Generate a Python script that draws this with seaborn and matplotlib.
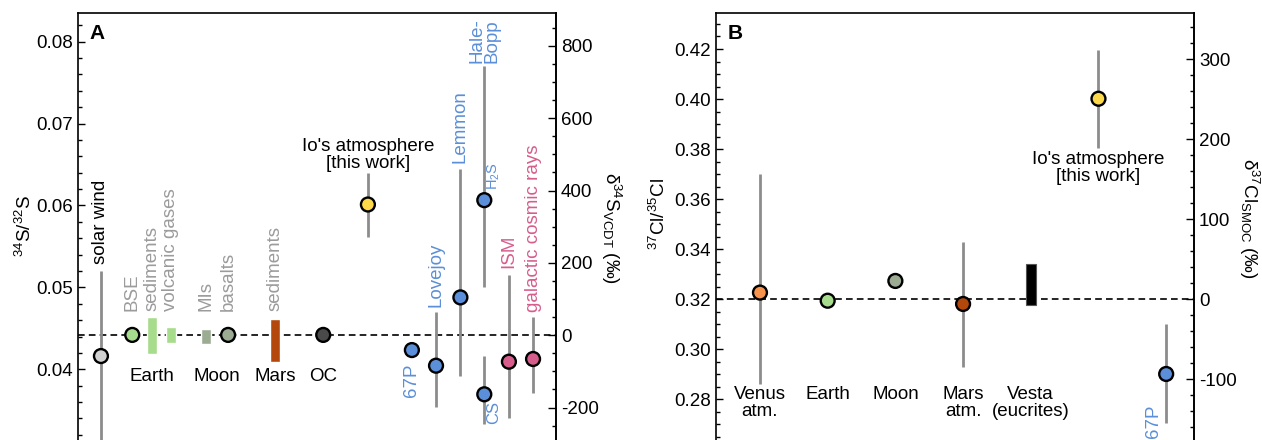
import numpy as np
import pandas as pd
import matplotlib
matplotlib.use("Agg")
import matplotlib.pyplot as plt
from matplotlib.ticker import MultipleLocator, FormatStrFormatter
import seaborn as sns

nan = np.nan

# Panel A: sulfur, 34S/32S ratio (VCDT reference)
R0_S = 0.04416
s_names = ['solar wind', 'BSE', 'basalts', 'OC', 'Io', '67P', 'Lovejoy',
           'Lemmon', 'H2S', 'CS', 'ISM', 'GCR']
s_ratio = [0.04162, 0.0442, 0.0442, 0.0442, 0.06012, 0.04235, 0.04044,
           0.04878, 0.06065, 0.03695, 0.04093, 0.04126]
s_low = [0.0280, nan, nan, nan, 0.05617, nan, 0.03544, 0.03918, 0.0500,
         0.03329, 0.03402, 0.03715]
s_high = [0.0520, nan, nan, nan, 0.0640, nan, 0.0470, 0.06443, 0.07699,
          0.04162, 0.0515, 0.04641]

# ranges drawn as bars
r_names = ['Earth sediments', 'volcanic gases', 'MIs', 'Mars sediments']
r_low = [0.04183, 0.04317, 0.04305, 0.04085]
r_high = [0.04634, 0.04512, 0.04491, 0.04613]

# Panel B: chlorine, 37Cl/35Cl ratio (SMOC reference)
R0_CL = 0.32
c_names = ['Venus', 'Earth', 'Moon', 'Mars', 'Io', '67P']
c_ratio = [0.32264, 0.3194, 0.3273, 0.3181, 0.40012, 0.29012]
c_low = [0.2860, nan, nan, 0.2930, 0.3804, 0.2704]
c_high = [0.3702, nan, nan, 0.3428, 0.4197, 0.3100]
vesta_low, vesta_high = 0.3176, 0.3341

# layout: x slots
s_x = [0.96, 2.27, 6.28, 10.26, 12.13, 13.97, 14.98, 16.0, 17.0, 17.0, 18.03, 19.04]
r_x = [3.08, 3.89, 5.36, 8.24]
c_x = [1, 2, 3, 4, 6, 7]
vesta_x = 5

green = '#a7dc8c'
moon = '#9bac93'
mars = '#b4470c'
blue = '#5b8fd9'
pink = '#d65d8c'
yellow = '#fdd84a'
gray_txt = '#9b9b9b'
err_col = '#8c8c8c'

s_colors = {'solar wind': '#d2d2d2', 'BSE': green, 'basalts': moon, 'OC': '#4a4a4a',
            'Io': yellow, '67P': blue, 'Lovejoy': blue, 'Lemmon': blue, 'H2S': blue,
            'CS': blue, 'ISM': pink, 'GCR': pink}
r_colors = [green, green, moon, mars]
c_colors = {'Venus': '#f7934c', 'Earth': green, 'Moon': moon, 'Mars': mars,
            'Io': yellow, '67P': blue}

sns.set_theme(style='ticks', rc={'text.color': 'black', 'axes.labelcolor': 'black',
                                 'xtick.color': 'black', 'ytick.color': 'black',
                                 'axes.edgecolor': 'black'})
plt.rcParams['font.family'] = ['Liberation Sans', 'DejaVu Sans']
plt.rcParams['mathtext.fontset'] = 'custom'
plt.rcParams['mathtext.rm'] = 'Liberation Sans'
plt.rcParams['mathtext.it'] = 'Liberation Sans:italic'
plt.rcParams['mathtext.bf'] = 'Liberation Sans:bold'
plt.rcParams['axes.unicode_minus'] = False
FS = 13.5

fig = plt.figure(figsize=(12.62, 4.4), dpi=100)
W, H = 1262, 440
axA = fig.add_axes([78 / W, 0, 478 / W, 1 - 13 / H])
axB = fig.add_axes([715.7 / W, 0, 478.3 / W, 1 - 13 / H])


def style_axes(ax):
    for sp in ax.spines.values():
        sp.set_linewidth(1.2)
        sp.set_color('black')
    ax.spines['bottom'].set_visible(False)
    ax.set_xticks([])
    ax.tick_params(axis='y', which='both', direction='in', right=False,
                   labelsize=FS, colors='black')
    ax.tick_params(axis='y', which='major', length=5, width=1)
    ax.tick_params(axis='y', which='minor', length=3, width=1)
    ax.set_facecolor('white')


def tag(ax, txt, x, y, dx=0, dy=0, color='black', rot=90, va='bottom',
        ha='center', size=FS, **kw):
    ax.annotate(txt, (x, y), xytext=(dx, dy), textcoords='offset pixels',
                rotation=rot, va=va, ha=ha, color=color, fontsize=size, **kw)


def right_axis(ax, r0, major, minor, label, ly):
    sec = ax.secondary_yaxis('right', functions=(lambda r: (r / r0 - 1) * 1000,
                                                 lambda d: (d / 1000 + 1) * r0))
    sec.set_yticks(major)
    sec.yaxis.set_minor_locator(MultipleLocator(minor))
    sec.tick_params(which='both', direction='in', labelsize=FS, colors='black')
    sec.tick_params(which='major', length=6, width=1)
    sec.tick_params(which='minor', length=3, width=1)
    sec.spines['right'].set_linewidth(1.2)
    sec.spines['right'].set_color('black')
    sec.set_ylabel(label, fontsize=FS, rotation=270, va='center', ha='center',
                   color='black')
    sec.yaxis.set_label_coords(1.115, ly, transform=ax.transAxes)
    return sec


# ---------------- Panel A ----------------
ax = axA
style_axes(ax)
ax.set_xlim(0, 20)
ax.set_ylim(0.03137, 0.0835)
ax.axhline(R0_S, color='black', lw=1.2, ls=(0, (4, 2.5)), zorder=1)

dfS = pd.DataFrame({'name': s_names, 'x': s_x, 'ratio': s_ratio,
                    'low': s_low, 'high': s_high})
errS = dfS.dropna()
ax.vlines(errS['x'], errS['low'], errS['high'], color=err_col, lw=2, zorder=2)
ax.bar(r_x, np.array(r_high) - np.array(r_low), bottom=r_low, width=0.42,
       color=r_colors, zorder=2)
sns.scatterplot(data=dfS, x='x', y='ratio', hue='name', palette=s_colors,
                s=100, edgecolor='black', linewidth=1.7, legend=False,
                zorder=4, ax=ax)
ax.set_xlabel('')

ax.yaxis.set_major_locator(MultipleLocator(0.01))
ax.yaxis.set_minor_locator(MultipleLocator(0.002))
ax.yaxis.set_major_formatter(FormatStrFormatter('%.2f'))
ax.set_ylabel('$^{34}$S/$^{32}$S', fontsize=FS, va='center')
ax.yaxis.set_label_coords(-0.11, 0.5)

right_axis(ax, R0_S, np.arange(-200, 801, 200), 50,
           'δ$^{34}$S$_{\\rm VCDT}$ (‰)', 0.497)

d = dict(zip(s_names, range(len(s_names))))
label_y = 0.0471
tag(ax, 'solar wind', s_x[0], s_high[0], dy=7)
tag(ax, 'BSE', s_x[d['BSE']], label_y, color=gray_txt)
tag(ax, 'sediments', r_x[0], label_y, color=gray_txt)
tag(ax, 'volcanic gases', r_x[1], label_y, color=gray_txt)
tag(ax, 'MIs', r_x[2], label_y, color=gray_txt)
tag(ax, 'basalts', s_x[d['basalts']], label_y, color=gray_txt)
tag(ax, 'sediments', r_x[3], label_y, color=gray_txt)
for txt, xx in [('Earth', r_x[0]), ('Moon', 5.8), ('Mars', r_x[3]), ('OC', s_x[d['OC']])]:
    tag(ax, txt, xx, 0.0391, rot=0, va='center')
tag(ax, "Io's atmosphere\n[this work]", s_x[d['Io']], s_high[d['Io']], dy=1,
    rot=0, multialignment='center', linespacing=1.0)
tag(ax, '67P', s_x[d['67P']], s_ratio[d['67P']], dy=-13, va='top', color=blue)
tag(ax, 'Lovejoy', s_x[d['Lovejoy']], s_high[d['Lovejoy']], dy=5, color=blue)
tag(ax, 'Lemmon', s_x[d['Lemmon']], s_high[d['Lemmon']], dy=6, color=blue)
tag(ax, 'Hale-\nBopp', s_x[d['H2S']], s_high[d['H2S']], dy=3, color=blue,
    multialignment='left', linespacing=0.85)
tag(ax, 'H$_2$S', s_x[d['H2S']], s_ratio[d['H2S']], dx=9, dy=10, color=blue,
    size=10.5)
tag(ax, 'CS', s_x[d['CS']], s_ratio[d['CS']], dx=9, dy=-7, va='top', color=blue,
    size=12)
tag(ax, 'ISM', s_x[d['ISM']], s_high[d['ISM']], dy=7, color=pink)
tag(ax, 'galactic cosmic rays', s_x[d['GCR']], s_high[d['GCR']], dy=5, color=pink)
ax.text(0.025, 0.975, 'A', transform=ax.transAxes, fontsize=15,
        fontweight='bold', va='top', ha='left')

# ---------------- Panel B ----------------
ax = axB
style_axes(ax)
ax.set_xlim(0.346, 7.411)
ax.set_ylim(0.26373, 0.43439)
ax.axhline(R0_CL, color='black', lw=1.2, ls=(0, (4, 2.5)), zorder=1)

dfC = pd.DataFrame({'name': c_names, 'x': c_x, 'ratio': c_ratio,
                    'low': c_low, 'high': c_high})
errC = dfC.dropna()
ax.vlines(errC['x'], errC['low'], errC['high'], color=err_col, lw=2, zorder=2)
ax.bar([vesta_x], [vesta_high - vesta_low], bottom=[vesta_low], width=0.14,
       color='black', edgecolor='#555555', linewidth=0.8, zorder=2)
sns.scatterplot(data=dfC, x='x', y='ratio', hue='name', palette=c_colors,
                s=100, edgecolor='black', linewidth=1.7, legend=False,
                zorder=4, ax=ax)
ax.set_xlabel('')

ax.yaxis.set_major_locator(MultipleLocator(0.02))
ax.yaxis.set_minor_locator(MultipleLocator(0.005))
ax.yaxis.set_major_formatter(FormatStrFormatter('%.2f'))
ax.set_ylabel('$^{37}$Cl/$^{35}$Cl', fontsize=FS, va='center')
ax.yaxis.set_label_coords(-0.118, 0.53)

right_axis(ax, R0_CL, np.arange(-100, 301, 100), 20,
           'δ$^{37}$Cl$_{\\rm SMOC}$ (‰)', 0.52)

cat_labels = ['Venus\natm.', 'Earth', 'Moon', 'Mars\natm.', 'Vesta\n(eucrites)']
cat_x = [1, 2, 3, 4, vesta_x]
for txt, xx in zip(cat_labels, cat_x):
    tag(ax, txt, xx, 0.2852, rot=0, va='top', multialignment='center',
        linespacing=0.95)
tag(ax, "Io's atmosphere\n[this work]", c_x[4], c_low[4], dy=-3, rot=0,
    va='top', multialignment='center', linespacing=1.0)
tag(ax, '67P', c_x[5], c_ratio[5], dx=-13, dy=-31, va='top', color=blue)
ax.text(0.025, 0.975, 'B', transform=ax.transAxes, fontsize=15,
        fontweight='bold', va='top', ha='left')

fig.savefig('out.png', dpi=100)
